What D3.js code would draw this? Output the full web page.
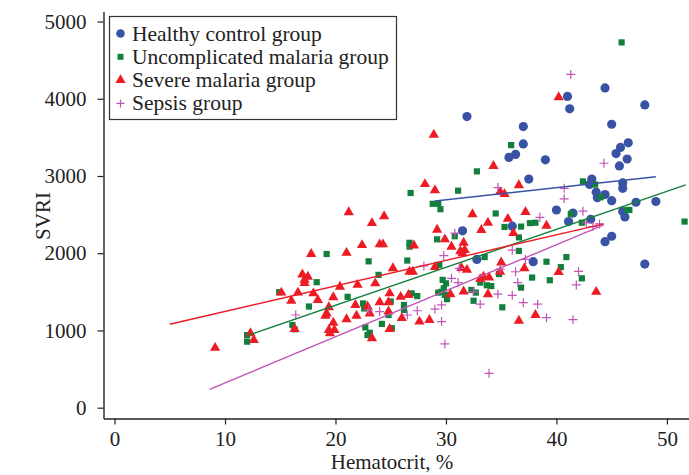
<!DOCTYPE html>
<html>
<head>
<meta charset="utf-8">
<title>SVRI vs Hematocrit</title>
<style>
  body { margin: 0; background: #fff; }
  text { font-family: "Liberation Serif", "DejaVu Serif", serif; fill: #222; }
</style>
</head>
<body>
<script src="https://cdnjs.cloudflare.com/ajax/libs/d3/7.8.5/d3.min.js"></script>
<script>
// groups, in legend order
var groups = ['Healthy control group', 'Uncomplicated malaria group', 'Severe malaria group', 'Sepsis group'];

// [hematocrit %, SVRI]
var healthy = [
  [31.9,3770],[41.0,4030],[41.2,3870],[44.4,4140],[48.0,3920],[37.0,3640],[45.0,3670],[37.0,3415],
  [36.3,3280],[35.7,3240],[39.0,3210],[46.5,3430],[45.8,3370],[45.4,3290],[46.4,3220],[45.7,3130],
  [37.5,2960],[43.2,2960],[43.0,2890],[46.0,2910],[46.0,2840],[43.6,2790],[44.4,2760],[43.7,2720],
  [45.0,2680],[47.2,2660],[49.0,2670],[40.0,2560],[41.5,2520],[41.1,2410],[43.1,2440],[46.0,2540],
  [46.2,2470],[36.0,2350],[31.5,2290],[32.8,1920],[37.9,1890],[45.0,2220],[44.4,2150],[48.0,1860]
];
var uncomplicated = [
  [45.9,4730],[35.9,3400],[32.8,3060],[26.8,2780],[31.1,2810],[28.8,2640],[29.3,2640],[29.5,2570],
  [42.4,2930],[43.5,2890],[44.0,2725],[46.4,2560],[46.6,2560],[51.6,2410],[34.5,2515],[37.6,2390],
  [38.1,2395],[36.8,2345],[35.3,2340],[41.3,2510],[42.3,2395],[36.6,2205],[30.8,2220],[36.6,2030],
  [33.5,1950],[39.1,1890],[40.9,1950],[40.4,1820],[42.3,1675],[39.4,1650],[37.8,1685],[36.8,1555],
  [34.8,1730],[33.1,1620],[33.7,1585],[34.1,1575],[32.3,1525],[32.7,1490],[32.5,1385],[35.1,1300],
  [19.2,1990],[23.0,1895],[26.7,2135],[26.7,2085],[29.2,2180],[26.5,1905],[18.3,1625],[23.9,1720],
  [29.4,1850],[21.1,1435],[29.7,1655],[30.0,1610],[29.8,1545],[26.9,1480],[27.4,1445],[17.6,1310],
  [16.1,1070],[16.3,1015],[22.5,1350],[22.6,1285],[25.0,1375],[26.2,1330],[26.2,1265],[24.8,1200],
  [24.2,1085],[22.7,1040],[22.9,940],[23.1,970],[25.1,1030],[29.3,1490],[29.6,1500],[29.9,1460],
  [30.1,1405],[14.9,1495],[12.0,940],[12.0,855]
];
var severe = [
  [40.2,4020],[28.9,3535],[34.3,3130],[28.1,2895],[29.0,2815],[36.6,2880],[34.9,2795],[35.3,2765],
  [32.4,2505],[33.8,2395],[35.6,2445],[37.2,2535],[39.1,2355],[29.2,2305],[33.2,2300],[36.1,2260],
  [30.5,2085],[31.6,2135],[31.7,2040],[31.3,2025],[31.5,2000],[35.0,1880],[34.9,1760],[37.1,1805],
  [40.2,1755],[33.4,1695],[33.9,1685],[33.1,1665],[31.6,1505],[30.4,1470],[33.8,1470],[43.6,1500],
  [36.6,1125],[38.1,1200],[21.2,2530],[23.3,2390],[24.4,2480],[22.4,2105],[24.0,2115],[24.3,2115],
  [27.1,2100],[17.8,1990],[21.0,2005],[29.9,2180],[17.0,1725],[17.5,1695],[17.2,1615],[17.2,1655],
  [20.4,1565],[22.0,1590],[23.6,1610],[25.2,1805],[26.7,1760],[27.0,1760],[29.0,1820],[31.4,1810],
  [31.9,1785],[15.1,1490],[16.6,1490],[18.0,1480],[19.8,1430],[24.9,1480],[26.6,1460],[18.4,1395],
  [16.0,1385],[19.4,1300],[19.2,1220],[21.8,1330],[22.9,1310],[23.1,1220],[24.0,1365],[24.8,1365],
  [24.8,1245],[25.9,1435],[19.1,1190],[21.0,1145],[21.9,1190],[19.8,1100],[19.9,1005],[19.4,1005],
  [19.5,965],[16.3,1020],[23.3,900],[24.9,1020],[26.0,1160],[27.6,1115],[28.5,1135],[9.1,775],
  [12.3,965],[12.6,875]
];
var sepsis = [
  [41.3,4315],[44.3,3165],[34.7,2850],[40.7,2840],[40.7,2705],[38.5,2465],[42.4,2545],[43.3,2345],
  [43.9,2380],[42.7,2395],[30.8,2260],[36.0,2040],[37.2,1920],[31.2,1805],[30.5,1675],[31.1,1620],
  [34.9,1795],[36.3,1760],[42.0,1765],[41.8,1590],[36.5,1620],[32.5,1500],[34.7,1470],[36.0,1455],
  [33.1,1340],[37.0,1360],[38.3,1340],[39.1,1165],[41.5,1140],[29.8,1970],[28.0,1835],[16.4,1200],
  [23.0,1265],[24.0,1245],[27.4,1255],[29.0,1275],[29.6,1330],[29.6,1115],[29.9,825],[26.5,1200],
  [33.9,445]
];

// linear fit end points per group
var healthyFit = [[29.0,2677],[49.0,2991]];
var uncomplicatedFit = [[12.0,932],[51.7,2884]];
var severeFit = [[5.0,1080],[44.2,2377]];
var sepsisFit = [[8.6,238],[44.3,2366]];

var xTicks = [0, 10, 20, 30, 40, 50];
var yTicks = [0, 1000, 2000, 3000, 4000, 5000];

var colors = ['#3953a4', '#12803c', '#ed1c24', '#c155b7'];

var W = 689, H = 475;
var mLeft = 103.5, mRight = 689, mTop = 11.5, mBottom = 418.5;

var svg = d3.select('body').append('svg')
  .attr('width', W)
  .attr('height', H);

var x = d3.scaleLinear().domain([-1, 52]).range([mLeft, mRight]);
var y = d3.scaleLinear().domain([-140, 5130]).range([mBottom, mTop]);

// axes
var yAxis = svg.append('g')
  .attr('transform', `translate(${mLeft},0)`)
  .call(d3.axisLeft(y).tickValues(yTicks).tickSize(6).tickSizeOuter(0).tickPadding(11).tickFormat(d3.format('d')));
var xAxis = svg.append('g')
  .attr('transform', `translate(0,${mBottom})`)
  .call(d3.axisBottom(x).tickValues(xTicks).tickSize(6).tickSizeOuter(0).tickPadding(7));

[yAxis, xAxis].forEach(function(a) {
  a.select('.domain').attr('stroke', '#222').attr('stroke-width', 1.4);
  a.selectAll('.tick line').attr('stroke', '#222').attr('stroke-width', 1.2);
  a.selectAll('.tick text').style('font-family', '"Liberation Serif", serif').style('font-size', '21px').attr('fill', '#222');
});

// axis titles
svg.append('text')
  .attr('transform', 'translate(50,216) rotate(-90)')
  .attr('text-anchor', 'middle')
  .style('font-size', '21px')
  .text('SVRI');
svg.append('text')
  .attr('x', 392).attr('y', 469)
  .attr('text-anchor', 'middle')
  .style('font-size', '21px')
  .text('Hematocrit, %');

var plot = svg.append('g');
var tri = d3.symbol().type(d3.symbolTriangle).size(46);

// healthy: circles
plot.selectAll('.hc').data(healthy).enter().append('circle')
  .attr('cx', d => x(d[0])).attr('cy', d => y(d[1]))
  .attr('r', 4.6).attr('fill', colors[0]);

// uncomplicated: squares
plot.selectAll('.um').data(uncomplicated).enter().append('rect')
  .attr('x', d => x(d[0]) - 3.1).attr('y', d => y(d[1]) - 3.1)
  .attr('width', 6.2).attr('height', 6.2).attr('fill', colors[1]);

// severe: triangles
plot.selectAll('.sm').data(severe).enter().append('path')
  .attr('d', tri)
  .attr('transform', d => `translate(${x(d[0])},${y(d[1])})`)
  .attr('fill', colors[2]);

// sepsis: plus
plot.selectAll('.sp').data(sepsis).enter().append('path')
  .attr('d', 'M-4.5,0H4.5M0,-4.5V4.5')
  .attr('transform', d => `translate(${x(d[0])},${y(d[1])})`)
  .attr('stroke', colors[3]).attr('stroke-width', 1.2).attr('fill', 'none');

// fit lines
var line = d3.line().x(d => x(d[0])).y(d => y(d[1]));
[healthyFit, uncomplicatedFit, severeFit, sepsisFit].forEach(function(f, i) {
  plot.append('path').attr('d', line(f))
    .attr('stroke', colors[i]).attr('stroke-width', 1.4).attr('fill', 'none');
});

// legend
var lg = svg.append('g');
lg.append('rect')
  .attr('x', 109.5).attr('y', 16.5).attr('width', 287).attr('height', 103)
  .attr('fill', '#fff').attr('stroke', '#333').attr('stroke-width', 1.2);
groups.forEach(function(g, i) {
  var cy = 33.5 + i * 23.3;
  var mx = 120.5;
  if (i === 0) lg.append('circle').attr('cx', mx).attr('cy', cy).attr('r', 4.3).attr('fill', colors[0]);
  if (i === 1) lg.append('rect').attr('x', mx - 3).attr('y', cy - 3).attr('width', 6).attr('height', 6).attr('fill', colors[1]);
  if (i === 2) lg.append('path').attr('d', tri).attr('transform', `translate(${mx},${cy})`).attr('fill', colors[2]);
  if (i === 3) lg.append('path').attr('d', 'M-4,0H4M0,-4V4').attr('transform', `translate(${mx},${cy})`)
    .attr('stroke', colors[3]).attr('stroke-width', 1.2);
  lg.append('text').attr('x', 132).attr('y', cy + 7)
    .style('font-size', '21.5px')
    .text(g);
});
</script>
</body>
</html>
